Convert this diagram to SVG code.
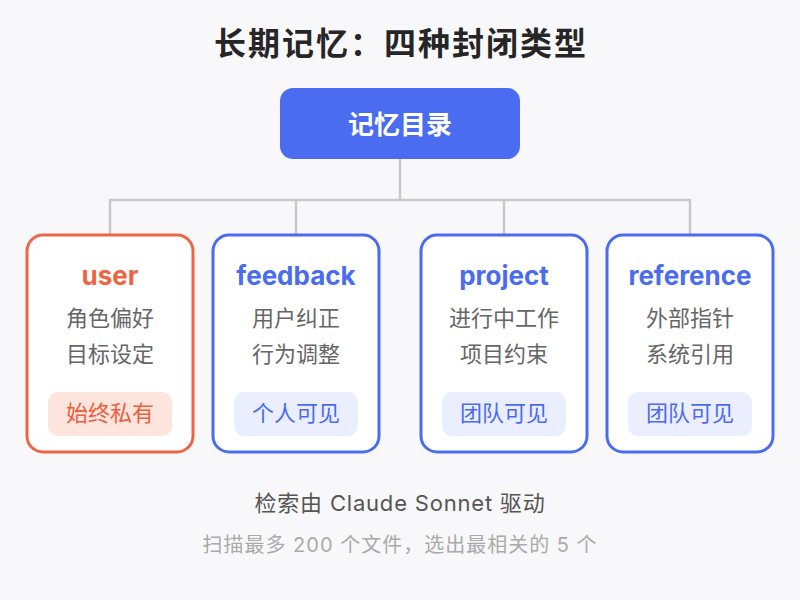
<svg xmlns="http://www.w3.org/2000/svg" width="800" height="600" viewBox="0 0 800 600">
<style>
text{font-family:"Inter","Noto Sans CJK SC","Noto Sans",sans-serif;text-anchor:middle}
.title{font-size:32px;font-weight:700;fill:#262626;letter-spacing:2px}
.root{font-size:26px;font-weight:700;fill:#ffffff}
.card{fill:#ffffff;stroke-width:3}
.blue .card{stroke:#4a6cf0}
.orange .card{stroke:#ec6645}
.name{font-size:26px;font-weight:700}
.blue .name{fill:#4a6cf0}
.orange .name{fill:#ec6645}
.desc{font-size:22px;fill:#666666}
.badge{stroke:none}
.blue .badge{fill:#eaeefe}
.orange .badge{fill:#fde4dc}
.btxt{font-size:22px}
.blue .btxt{fill:#4a6cf0}
.orange .btxt{fill:#e8603e}
.conn{stroke:#c8c8c8;stroke-width:2.5;fill:none}
.foot1{font-size:22px;fill:#555555;letter-spacing:0.8px}
.foot2{font-size:20px;fill:#aaaaaa;letter-spacing:1px}
</style>
<rect width="800" height="600" fill="#f8f8fa"/>
<text class="title" x="401" y="55">长期记忆：四种封闭类型</text>
<g id="connectors">
<path class="conn" d="M400 159V200M110 235V200H690V235M296 200V235M504 200V235"/>
</g>
<g id="root">
<rect x="280" y="88" width="240" height="71" rx="13" fill="#4a6cf0"/>
<text class="root" x="400" y="134">记忆目录</text>
</g>
<g id="user" class="orange">
<rect class="card" x="27" y="235" width="166" height="217" rx="16"/>
<text class="name" x="110" y="285">user</text>
<text class="desc" x="110" y="326">角色偏好</text>
<text class="desc" x="110" y="362">目标设定</text>
<rect class="badge" x="48" y="392" width="124" height="44" rx="10"/>
<text class="btxt" x="110" y="421">始终私有</text>
</g>
<g id="feedback" class="blue">
<rect class="card" x="213" y="235" width="166" height="217" rx="16"/>
<text class="name" x="296" y="285">feedback</text>
<text class="desc" x="296" y="326">用户纠正</text>
<text class="desc" x="296" y="362">行为调整</text>
<rect class="badge" x="234" y="392" width="124" height="44" rx="10"/>
<text class="btxt" x="296" y="421">个人可见</text>
</g>
<g id="project" class="blue">
<rect class="card" x="421" y="235" width="166" height="217" rx="16"/>
<text class="name" x="504" y="285">project</text>
<text class="desc" x="504" y="326">进行中工作</text>
<text class="desc" x="504" y="362">项目约束</text>
<rect class="badge" x="442" y="392" width="124" height="44" rx="10"/>
<text class="btxt" x="504" y="421">团队可见</text>
</g>
<g id="reference" class="blue">
<rect class="card" x="607" y="235" width="166" height="217" rx="16"/>
<text class="name" x="690" y="285">reference</text>
<text class="desc" x="690" y="326">外部指针</text>
<text class="desc" x="690" y="362">系统引用</text>
<rect class="badge" x="628" y="392" width="124" height="44" rx="10"/>
<text class="btxt" x="690" y="421">团队可见</text>
</g>
<text class="foot1" x="400" y="511">检索由 Claude Sonnet 驱动</text>
<text class="foot2" x="400" y="552">扫描最多 200 个文件，选出最相关的 5 个</text>
</svg>
